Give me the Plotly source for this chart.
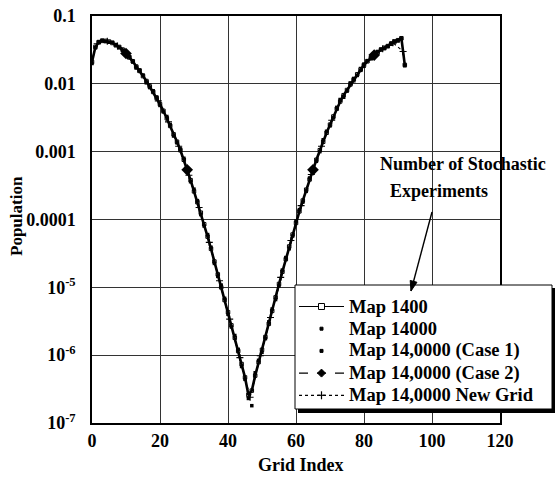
import math
import plotly.graph_objects as go

# ---------------------------------------------------------------------------
# Data: population per grid index for each stochastic map run
# ---------------------------------------------------------------------------
grid_index = list(range(0, 93))

map_1400_pop = [
    2.1e-2, 3.5e-2, 4.1e-2, 4.3e-2, 4.3e-2, 4.2e-2, 4.0e-2, 3.7e-2, 3.5e-2, 3.2e-2,
    2.8e-2, 2.45e-2, 2.15e-2, 1.8e-2, 1.55e-2, 1.3e-2, 1.1e-2, 9.1e-3, 7.6e-3, 6.2e-3,
    5.0e-3, 4.0e-3, 3.1e-3, 2.4e-3, 1.8e-3, 1.4e-3, 1.05e-3, 7.6e-4, 5.4e-4, 3.8e-4,
    2.6e-4, 1.8e-4, 1.26e-4, 8.5e-5, 5.6e-5, 3.7e-5, 2.4e-5, 1.55e-5, 1.0e-5, 6.5e-6,
    4.3e-6, 2.75e-6, 1.8e-6, 1.15e-6, 7.4e-7, 4.7e-7, 2.6e-7, 3.0e-7, 5.0e-7, 7.9e-7,
    1.2e-6, 1.85e-6, 2.9e-6, 4.5e-6, 7.1e-6, 1.12e-5, 1.7e-5, 2.6e-5, 4.0e-5, 6.0e-5,
    8.9e-5, 1.32e-4, 1.9e-4, 2.75e-4, 3.9e-4, 5.4e-4, 7.6e-4, 1.05e-3, 1.4e-3, 1.9e-3,
    2.5e-3, 3.3e-3, 4.3e-3, 5.5e-3, 6.8e-3, 8.1e-3, 9.8e-3, 1.17e-2, 1.38e-2, 1.62e-2,
    1.9e-2, 2.15e-2, 2.4e-2, 2.6e-2, 2.9e-2, 3.2e-2, 3.4e-2, 3.6e-2, 3.9e-2, 4.2e-2,
    4.4e-2, 4.7e-2, 1.9e-2,
]

map_14000_x = list(range(0, 93, 2))
map_14000_pop = [
    2.0e-2, 4.2e-2, 4.2e-2, 4.1e-2, 3.4e-2, 2.9e-2, 2.1e-2, 1.6e-2, 1.05e-2, 7.9e-3,
    4.8e-3, 3.3e-3, 1.7e-3, 1.1e-3, 5.1e-4, 2.8e-4, 1.18e-4, 6.0e-5, 2.25e-5, 1.08e-5,
    4.0e-6, 1.95e-6, 6.8e-7, 2.3e-7, 5.5e-7, 1.1e-6, 3.1e-6, 6.6e-6, 1.8e-5, 3.7e-5,
    9.5e-5, 1.8e-4, 4.1e-4, 7.2e-4, 1.5e-3, 2.4e-3, 4.5e-3, 6.5e-3, 1.02e-2, 1.33e-2,
    1.95e-2, 2.35e-2, 3.0e-2, 3.3e-2, 4.0e-2, 4.3e-2, 1.85e-2,
]

case1_x = list(range(1, 92, 2))
case1_pop = [
    3.4e-2, 4.4e-2, 4.1e-2, 3.8e-2, 3.1e-2, 2.5e-2, 1.75e-2, 1.35e-2, 8.8e-3, 6.4e-3,
    3.85e-3, 2.5e-3, 1.35e-3, 8.0e-4, 3.6e-4, 1.9e-4, 8.0e-5, 3.9e-5, 1.45e-5, 6.9e-6,
    2.6e-6, 1.22e-6, 4.4e-7, 1.8e-7, 8.4e-7, 1.75e-6, 4.8e-6, 1.05e-5, 2.75e-5, 5.7e-5,
    1.4e-4, 2.6e-4, 5.7e-4, 1.0e-3, 2.0e-3, 3.15e-3, 5.7e-3, 7.8e-3, 1.2e-2, 1.58e-2,
    2.2e-2, 2.55e-2, 3.25e-2, 3.55e-2, 4.25e-2, 4.6e-2,
]

case2_x = list(range(0, 93))
case2_pop = [
    2.1e-2, 3.6e-2, 4.1e-2, 4.3e-2, 4.3e-2, 4.2e-2, 4.0e-2, 3.7e-2, 3.45e-2, 3.15e-2,
    2.8e-2, 2.45e-2, 2.1e-2, 1.8e-2, 1.55e-2, 1.3e-2, 1.1e-2, 9.0e-3, 7.5e-3, 6.1e-3,
    5.0e-3, 3.95e-3, 3.1e-3, 2.4e-3, 1.8e-3, 1.4e-3, 1.05e-3, 7.5e-4, 5.4e-4, 3.8e-4,
    2.6e-4, 1.8e-4, 1.25e-4, 8.4e-5, 5.6e-5, 3.7e-5, 2.4e-5, 1.55e-5, 1.0e-5, 6.4e-6,
    4.2e-6, 2.7e-6, 1.8e-6, 1.15e-6, 7.3e-7, 4.6e-7, 2.5e-7, 2.9e-7, 4.9e-7, 7.8e-7,
    1.2e-6, 1.85e-6, 2.9e-6, 4.5e-6, 7.0e-6, 1.1e-5, 1.7e-5, 2.6e-5, 4.0e-5, 6.0e-5,
    8.8e-5, 1.3e-4, 1.9e-4, 2.7e-4, 3.9e-4, 5.4e-4, 7.5e-4, 1.05e-3, 1.4e-3, 1.9e-3,
    2.5e-3, 3.3e-3, 4.3e-3, 5.4e-3, 6.8e-3, 8.1e-3, 9.7e-3, 1.16e-2, 1.38e-2, 1.62e-2,
    1.9e-2, 2.15e-2, 2.4e-2, 2.65e-2, 2.9e-2, 3.2e-2, 3.4e-2, 3.65e-2, 3.9e-2, 4.2e-2,
    4.4e-2, 4.65e-2, 1.9e-2,
]
# grid indices where the Case 2 run is drawn with a diamond marker
case2_marked = [10, 28, 65, 83]

new_grid_x = [
    1.5, 4.5, 7.5, 10.5, 13.5, 16.5, 19.5, 22.5, 25.5, 28.5, 31.5, 34.5, 37.5, 40.5, 43.5,
    46.5, 49.5, 52.5, 55.5, 58.5, 61.5, 64.5, 67.5, 70.5, 73.5, 76.5, 79.5, 82.5, 85.5,
    88.5, 91.5,
]
new_grid_pop = [
    3.9e-2, 4.25e-2, 3.6e-2, 2.6e-2, 1.65e-2, 1.0e-2, 5.6e-3, 2.75e-3, 1.2e-3, 4.5e-4,
    1.5e-4, 4.6e-5, 1.25e-5, 3.4e-6, 9.2e-7, 2.4e-7, 9.8e-7, 3.6e-6, 1.4e-5, 4.9e-5,
    1.6e-4, 4.6e-4, 1.2e-3, 2.9e-3, 6.1e-3, 1.07e-2, 1.75e-2, 2.5e-2, 3.3e-2, 4.05e-2,
    3.0e-2,
]

x_ticks = [0, 20, 40, 60, 80, 100, 120]
y_ticks = [1e-1, 1e-2, 1e-3, 1e-4, 1e-5, 1e-6, 1e-7]
y_tick_labels = ["0.1", "0.01", "0.001", "0.0001",
                 "10<sup>-5</sup>", "10<sup>-6</sup>", "10<sup>-7</sup>"]

x_title = "Grid Index"
y_title = "Population"

series_names = [
    "Map 1400",
    "Map 14000",
    "Map 14,0000 (Case 1)",
    "Map 14,0000 (Case 2)",
    "Map 14,0000 New Grid",
]

# ---------------------------------------------------------------------------
# Figure geometry (pixels)
# ---------------------------------------------------------------------------
W, H = 555, 482
ML, MR, MT, MB = 92, 55, 16, 59
PW, PH = W - ML - MR, H - MT - MB


def px_x(px):
    return (px - ML) / PW


def px_y(py):
    return (H - MB - py) / PH


FONT = "Liberation Serif"
BLACK = "#000000"
BOLD = dict(family=FONT, color=BLACK, weight="bold")

fig = go.Figure()

# Case 2: dashed line
fig.add_trace(go.Scatter(
    x=case2_x, y=case2_pop, mode="lines", name=series_names[3],
    line=dict(color=BLACK, width=1.4, dash="dash"), showlegend=False,
))

# New grid: dotted line with thin crosses
fig.add_trace(go.Scatter(
    x=new_grid_x, y=new_grid_pop, mode="lines+markers", name=series_names[4],
    line=dict(color=BLACK, width=1.2, dash="dot"),
    marker=dict(symbol="cross-thin", size=5, line=dict(color=BLACK, width=1.1)),
    showlegend=False,
))

# Map 1400: solid line with open squares
fig.add_trace(go.Scatter(
    x=grid_index, y=map_1400_pop, mode="lines+markers", name=series_names[0],
    line=dict(color=BLACK, width=2.6),
    marker=dict(symbol="square-open", size=3.5, color=BLACK, line=dict(width=1)),
    showlegend=False,
))

# Map 14000 and Case 1: small dots only
fig.add_trace(go.Scatter(
    x=map_14000_x, y=map_14000_pop, mode="markers", name=series_names[1],
    marker=dict(symbol="square", size=3.5, color=BLACK), showlegend=False,
))
fig.add_trace(go.Scatter(
    x=case1_x, y=case1_pop, mode="markers", name=series_names[2],
    marker=dict(symbol="square", size=3.5, color=BLACK), showlegend=False,
))

# Case 2 diamonds at the marked grid indices
mark_y = [case2_pop[case2_x.index(gx)] for gx in case2_marked]
fig.add_trace(go.Scatter(
    x=case2_marked, y=mark_y, mode="markers", name=series_names[3],
    marker=dict(symbol="diamond", size=9, color=BLACK), showlegend=False,
))

# ---------------------------------------------------------------------------
# Legend box (frame, drop shadow, keys and labels)
# ---------------------------------------------------------------------------
LX0, LY0, LX1, LY1 = 295, 285, 552, 409
shapes = [
    dict(type="rect", xref="paper", yref="paper",
         x0=px_x(LX0 + 3), x1=px_x(LX1 + 3), y0=px_y(LY1 + 4), y1=px_y(LY0 + 3),
         fillcolor=BLACK, line=dict(width=0), layer="above"),
    dict(type="rect", xref="paper", yref="paper",
         x0=px_x(LX0), x1=px_x(LX1), y0=px_y(LY1), y1=px_y(LY0),
         fillcolor="white", line=dict(color=BLACK, width=1), layer="above"),
]
annotations = []

ROW0, ROW_STEP = 306.5, 22.2
KEY_X0, KEY_X1, KEY_XC, TEXT_X = 299, 344, 321.5, 347
key_styles = [
    ("solid", "square-open"),
    (None, "dot"),
    (None, "dot"),
    ("dash", "diamond"),
    ("dot", "cross"),
]


def seg(x0, y0, x1, y1, width=1.2, dash=None):
    d = dict(type="line", xref="paper", yref="paper",
             x0=px_x(x0), x1=px_x(x1), y0=px_y(y0), y1=px_y(y1),
             line=dict(color=BLACK, width=width), layer="above")
    if dash:
        d["line"]["dash"] = dash
    return d


def poly(points, fill=True):
    path = "M " + " L ".join(f"{px_x(a):.5f},{px_y(b):.5f}" for a, b in points) + " Z"
    return dict(type="path", xref="paper", yref="paper", path=path,
                fillcolor=BLACK if fill else "white",
                line=dict(color=BLACK, width=1), layer="above")


for i, (name, (ls, mk)) in enumerate(zip(series_names, key_styles)):
    yc = ROW0 + i * ROW_STEP
    if ls:
        shapes.append(seg(KEY_X0, yc, KEY_X1, yc, width=1.2, dash=None if ls == "solid" else ls))
    if mk == "square-open":
        shapes.append(poly([(KEY_XC - 3, yc - 3), (KEY_XC + 3, yc - 3),
                            (KEY_XC + 3, yc + 3), (KEY_XC - 3, yc + 3)], fill=False))
    elif mk == "dot":
        shapes.append(poly([(KEY_XC - 1.5, yc - 1.5), (KEY_XC + 1.5, yc - 1.5),
                            (KEY_XC + 1.5, yc + 1.5), (KEY_XC - 1.5, yc + 1.5)]))
    elif mk == "diamond":
        shapes.append(poly([(KEY_XC, yc - 4), (KEY_XC + 4, yc),
                            (KEY_XC, yc + 4), (KEY_XC - 4, yc)]))
    elif mk == "cross":
        shapes.append(seg(KEY_XC - 4, yc, KEY_XC + 4, yc, width=1.2))
        shapes.append(seg(KEY_XC, yc - 4, KEY_XC, yc + 4, width=1.2))
    annotations.append(dict(
        text=name, xref="paper", yref="paper", x=px_x(TEXT_X), y=px_y(yc),
        xanchor="left", yanchor="middle", showarrow=False,
        font=dict(BOLD, size=18.5),
    ))

# Axis titles
annotations += [
    dict(text=y_title, xref="paper", yref="paper", x=px_x(17), y=px_y(216),
         xanchor="center", yanchor="middle", textangle=-90, showarrow=False,
         font=dict(BOLD, size=17)),
    dict(text=x_title, xref="paper", yref="paper", x=px_x(301), y=px_y(465),
         xanchor="center", yanchor="middle", showarrow=False,
         font=dict(BOLD, size=18)),
]

# Callout text and its arrow pointing at the legend
annotations += [
    dict(text="Number of Stochastic", xref="paper", yref="paper",
         x=px_x(463), y=px_y(164), xanchor="center", yanchor="middle",
         showarrow=False, font=dict(BOLD, size=18)),
    dict(text="Experiments", xref="paper", yref="paper",
         x=px_x(439), y=px_y(191), xanchor="center", yanchor="middle",
         showarrow=False, font=dict(BOLD, size=18)),
]
tail, tip = (432, 212), (411, 291)
shapes.append(seg(tail[0], tail[1], tip[0], tip[1], width=1.4))
dx, dy = tip[0] - tail[0], tip[1] - tail[1]
L = math.hypot(dx, dy)
ux, uy = dx / L, dy / L
bx, by = tip[0] - 10 * ux, tip[1] - 10 * uy
shapes.append(poly([tip, (bx - 3.5 * uy, by + 3.5 * ux), (bx + 3.5 * uy, by - 3.5 * ux)]))

fig.update_layout(
    width=W, height=H,
    margin=dict(l=ML, r=MR, t=MT, b=MB, pad=0, autoexpand=False),
    paper_bgcolor="white", plot_bgcolor="white",
    font=dict(BOLD, size=18),
    showlegend=False,
    shapes=shapes,
    annotations=annotations,
)

fig.update_xaxes(
    range=[0, 120], tickvals=x_ticks, ticks="", ticklabelstandoff=1,
    showgrid=True, gridcolor="#333333", gridwidth=1,
    showline=True, linecolor=BLACK, linewidth=1.5, mirror=True,
    zeroline=False, automargin=False,
)
fig.update_yaxes(
    type="log", range=[-7, -1], tickvals=y_ticks, ticktext=y_tick_labels,
    ticks="", ticklabelstandoff=11,
    showgrid=True, gridcolor="#333333", gridwidth=1,
    showline=True, linecolor=BLACK, linewidth=1.5, mirror=True,
    zeroline=False, automargin=False,
)

fig.write_html("out.html")
